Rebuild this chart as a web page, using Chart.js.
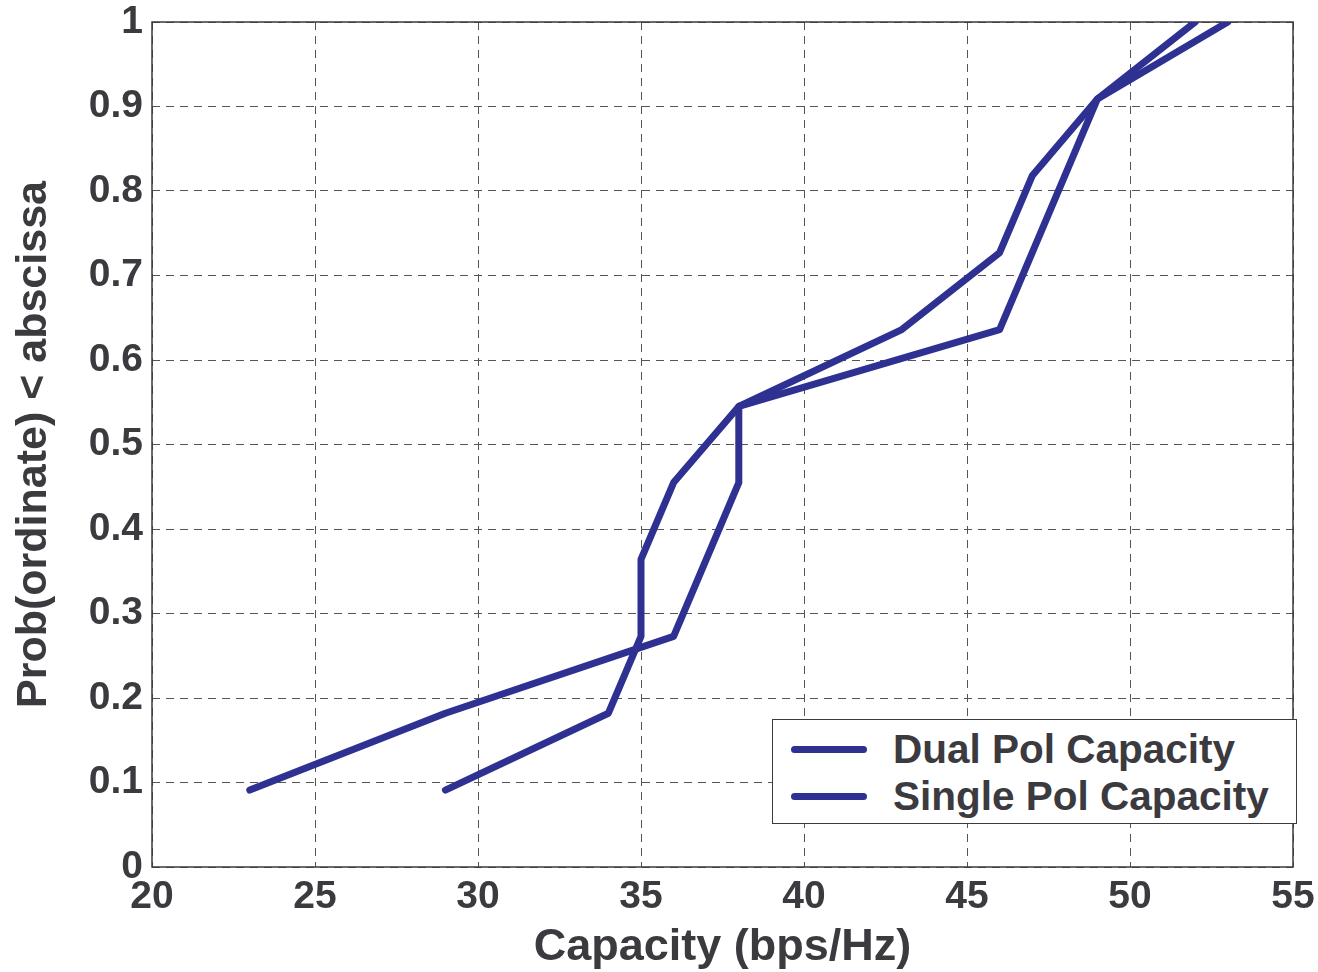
<!DOCTYPE html>
<html>
<head>
<meta charset="utf-8">
<script src="https://cdn.jsdelivr.net/npm/chart.js@4"></script>
<style>
  html, body { margin: 0; padding: 0; background: #fff; }
  #wrap { position: relative; width: 1318px; height: 972px; }
  #legendBox {
    position: absolute; left: 772px; top: 719px; width: 525px; height: 105px;
    border: 1.5px solid #3a3a3f; background: #fff; box-sizing: border-box;
    font: bold 40.5px "Liberation Sans", Arial, sans-serif; color: #3a3a3f;
    padding-top: 6px;
  }
  .legRow { height: 47px; line-height: 47px; white-space: nowrap; position: relative; }
  .legLine { position: absolute; left: 18px; top: 20px; width: 76px; height: 7px; border-radius: 3.5px; }
  .legText { position: absolute; left: 120px; top: 0; }
</style>
</head>
<body>
<div id="wrap">
  <canvas id="myChart" width="1318" height="972"></canvas>
  <div id="legendBox"></div>
</div>
<script>
// data
var xTicks = [20, 25, 30, 35, 40, 45, 50, 55];
var yTicks = [0, 0.1, 0.2, 0.3, 0.4, 0.5, 0.6, 0.7, 0.8, 0.9, 1];

var dualX = [29, 34, 35, 35, 36, 38, 43, 46, 47, 49, 52];
var dualY = [0.091, 0.182, 0.273, 0.364, 0.455, 0.545, 0.636, 0.727, 0.818, 0.909, 1.0];

var singleX = [23, 29, 36, 38, 38, 46, 49, 53];
var singleY = [0.091, 0.182, 0.273, 0.455, 0.545, 0.636, 0.909, 1.0];

var seriesNames = ["Dual Pol Capacity", "Single Pol Capacity"];
var lineColor = "#2e3192";
var textColor = "#3a3a3f";
var fontFamily = '"Liberation Sans", Arial, sans-serif';

var toPoints = function(xs, ys) {
    var pts = [];
    for (var i = 0; i < xs.length; i++) {
        pts.push({ x: xs[i], y: ys[i] });
    }
    return pts;
};

// box round the plot area, like matlab's axes box
var boxPlugin = {
    id: "plotBox",
    beforeDatasetsDraw: function(chart) {
        var a = chart.chartArea;
        var ctx = chart.ctx;
        ctx.save();
        ctx.strokeStyle = "#3a3a3f";
        ctx.lineWidth = 1.5;
        ctx.strokeRect(a.left, a.top, a.right - a.left, a.bottom - a.top);
        ctx.restore();
    }
};

// keep the edge labels from pushing the plot area in
var noEdgePad = function(axis) {
    axis.paddingTop = 0;
    axis.paddingBottom = 0;
    axis.paddingLeft = 0;
    axis.paddingRight = 0;
};

var ctx = document.getElementById("myChart").getContext("2d");

var lineStyle = {
    borderColor: lineColor,
    backgroundColor: lineColor,
    borderWidth: 7,
    pointRadius: 0,
    showLine: true,
    fill: false,
    tension: 0,
    borderCapStyle: "round",
    borderJoinStyle: "round"
};

var capChart = new Chart(ctx, {
    type: "scatter",
    data: {
        datasets: [
            Object.assign({ label: seriesNames[0], data: toPoints(dualX, dualY) }, lineStyle),
            Object.assign({ label: seriesNames[1], data: toPoints(singleX, singleY) }, lineStyle)
        ]
    },
    options: {
        responsive: false,
        animation: false,
        layout: { padding: { top: 22, right: 25, left: 0, bottom: 0 } },
        plugins: {
            legend: { display: false },
            tooltip: { enabled: false }
        },
        scales: {
            x: {
                type: "linear",
                min: xTicks[0],
                max: xTicks[xTicks.length - 1],
                afterBuildTicks: function(axis) {
                    axis.ticks = xTicks.map(function(v) { return { value: v }; });
                },
                afterFit: function(axis) { axis.height = 105; noEdgePad(axis); },
                ticks: {
                    color: textColor,
                    font: { family: fontFamily, size: 39, weight: "bold", lineHeight: 1 },
                    padding: 11,
                    maxRotation: 0,
                    autoSkip: false
                },
                grid: {
                    color: "#555",
                    lineWidth: 1,
                    drawTicks: false
                },
                border: { display: false, dash: [8, 6] },
                title: {
                    display: true,
                    text: "Capacity (bps/Hz)",
                    color: textColor,
                    font: { family: fontFamily, size: 45, weight: "bold", lineHeight: 1 },
                    padding: { top: 0, bottom: 2 }
                }
            },
            y: {
                type: "linear",
                min: 0,
                max: 1,
                afterBuildTicks: function(axis) {
                    axis.ticks = yTicks.map(function(v) { return { value: v }; });
                },
                afterFit: function(axis) { axis.width = 152; noEdgePad(axis); },
                ticks: {
                    color: textColor,
                    font: { family: fontFamily, size: 39, weight: "bold", lineHeight: 1 },
                    padding: 9,
                    autoSkip: false,
                    callback: function(v) { return String(+v.toFixed(1)); }
                },
                grid: {
                    color: "#555",
                    lineWidth: 1,
                    drawTicks: false
                },
                border: { display: false, dash: [8, 6] },
                title: {
                    display: true,
                    text: "Prob(ordinate) < abscissa",
                    color: textColor,
                    font: { family: fontFamily, size: 43, weight: "bold", lineHeight: 1 },
                    padding: { top: 13, bottom: 0 }
                }
            }
        }
    },
    plugins: [boxPlugin]
});

// legend as html, built from the dataset labels
var legendBox = document.getElementById("legendBox");
capChart.data.datasets.forEach(function(ds) {
    var row = document.createElement("div");
    row.className = "legRow";
    var ln = document.createElement("span");
    ln.className = "legLine";
    ln.style.background = ds.borderColor;
    var tx = document.createElement("span");
    tx.className = "legText";
    tx.textContent = ds.label;
    row.appendChild(ln);
    row.appendChild(tx);
    legendBox.appendChild(row);
});
</script>
</body>
</html>
